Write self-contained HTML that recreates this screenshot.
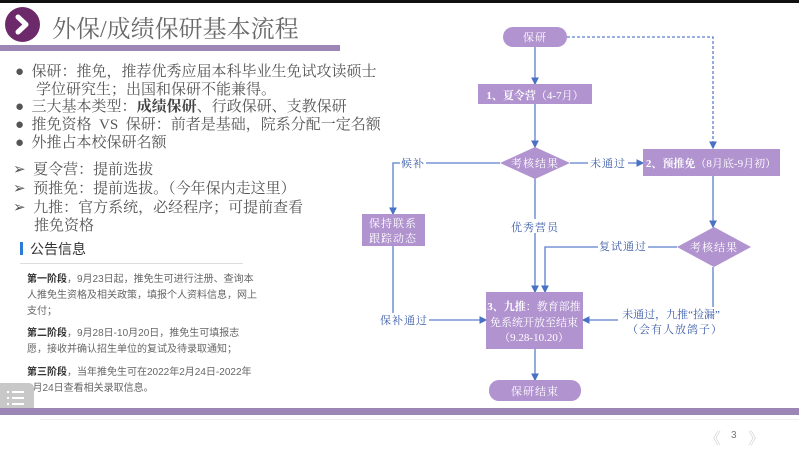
<!DOCTYPE html>
<html><head><meta charset="utf-8"><style>
*{margin:0;padding:0;box-sizing:border-box}
body{width:799px;height:452px;background:#fff;position:relative;overflow:hidden;font-family:"Liberation Sans","Noto Serif CJK SC","Noto Sans CJK SC",sans-serif;color:#555}
.a{position:absolute;white-space:nowrap}
.serif{font-family:"Liberation Serif","Noto Serif CJK SC",serif}
.b{font-size:15px;line-height:18px;color:#555}
.p{font-family:"Liberation Sans","Noto Sans CJK SC",sans-serif;font-size:10px;color:#666;line-height:16px}
.p b{color:#333}
</style></head><body>
<div class="a" style="left:0;top:0;width:799px;height:3px;background:#111"></div>
<div class="a" style="left:5px;top:7px;width:35px;height:35px;border-radius:50%;background:#6d2a6b"></div>
<svg class="a" style="left:5px;top:7px" width="35" height="35"><path d="M13 10 L21 17.5 L13 25" stroke="#fff" stroke-width="5" fill="none" stroke-linecap="round" stroke-linejoin="round"/></svg>
<div class="a serif" style="left:52px;top:9px;font-size:24px;color:#6a6a6a">外保/成绩保研基本流程</div>
<div class="a" style="left:0;top:45px;width:340px;height:6px;background:#9b86b6"></div>

<div class="a serif b" style="left:15px;top:63px">●&nbsp; 保研：推免，推荐优秀应届本科毕业生免试攻读硕士</div>
<div class="a serif b" style="left:36px;top:81px">学位研究生；出国和保研不能兼得。</div>
<div class="a serif b" style="left:15px;top:98px">●&nbsp; 三大基本类型：<b style="color:#444">成绩保研</b>、行政保研、支教保研</div>
<div class="a serif b" style="left:15px;top:116px">●&nbsp; 推免资格&nbsp; VS&nbsp; 保研：前者是基础，院系分配一定名额</div>
<div class="a serif b" style="left:15px;top:134px">●&nbsp; 外推占本校保研名额</div>
<div class="a serif b" style="left:13px;top:161px">➢&nbsp; 夏令营：提前选拔</div>
<div class="a serif b" style="left:13px;top:180px">➢&nbsp; 预推免：提前选拔。（今年保内走这里）</div>
<div class="a serif b" style="left:13px;top:199px">➢&nbsp; 九推：官方系统，必经程序；可提前查看</div>
<div class="a serif b" style="left:34px;top:217px">推免资格</div>

<div class="a" style="left:20px;top:242px;width:3px;height:13px;background:#2a7bd5"></div>
<div class="a" style="left:30px;top:239px;font-size:14px;color:#333;font-family:'Liberation Sans','Noto Sans CJK SC',sans-serif">公告信息</div>
<div class="a" style="left:20px;top:263px;width:223px;height:1px;background:#ddd"></div>
<div class="a p" style="left:27px;top:272px"><b>第一阶段</b>，9月23日起，推免生可进行注册、查询本<br>人推免生资格及相关政策，填报个人资料信息，网上<br>支付；</div>
<div class="a p" style="left:27px;top:326px"><b>第二阶段</b>，9月28日-10月20日，推免生可填报志<br>愿，接收并确认招生单位的复试及待录取通知；</div>
<div class="a p" style="left:27px;top:365px"><b>第三阶段</b>，当年推免生可在2022年2月24日-2022年<br>3月24日查看相关录取信息。</div>

<div class="a" style="left:0;top:383px;width:34px;height:30px;background:#c8c8c8;border-radius:0 5px 5px 0"></div>
<svg class="a" style="left:6px;top:388px" width="22" height="20"><g fill="#fff"><rect x="6" y="3" width="12" height="2"/><rect x="6" y="9" width="12" height="2"/><rect x="6" y="15" width="12" height="2"/><rect x="1" y="3" width="2" height="2"/><rect x="1" y="9" width="2" height="2"/><rect x="1" y="15" width="2" height="2"/></g></svg>

<div class="a" style="left:0;top:408px;width:799px;height:7px;background:#9b86b6"></div>
<div class="a" style="left:40px;top:419px;width:760px;height:1px;background:#eee"></div>
<div class="a" style="left:705px;top:426px;font-size:16px;color:#ccc">《</div>
<div class="a" style="left:731px;top:430px;font-size:10px;color:#777">3</div>
<div class="a" style="left:748px;top:426px;font-size:16px;color:#ccc">》</div>

<svg class="a" style="left:0;top:0" width="799" height="452" font-family="'Liberation Serif','Noto Serif CJK SC',serif">
<defs><marker id="ar" markerWidth="6" markerHeight="6" refX="5" refY="3" orient="auto"><path d="M0,0 L6,3 L0,6z" fill="#4a72c4"/></marker></defs>
<g stroke="#5a7fcc" stroke-width="1.3" fill="none">
<path d="M567 37 H713 V148" stroke-dasharray="3,2" marker-end="url(#ar)"/>
<path d="M535 47 V84" marker-end="url(#ar)"/>
<path d="M535 104 V147" marker-end="url(#ar)"/>
<path d="M500 163 H393 V214" marker-end="url(#ar)"/>
<path d="M570 163 H643" marker-end="url(#ar)"/>
<path d="M393 246 V320 H486" marker-end="url(#ar)"/>
<path d="M535 178 V292" marker-end="url(#ar)"/>
<path d="M713 176 V227" marker-end="url(#ar)"/>
<path d="M677 247 H545 V292" marker-end="url(#ar)"/>
<path d="M713 267 V307"/>
<path d="M618 320 H583" marker-end="url(#ar)"/>
<path d="M535 349 V380" marker-end="url(#ar)"/>
</g>
<g fill="#b193cf">
<rect x="503" y="27" width="64" height="20" rx="10"/>
<rect x="478" y="84" width="114" height="20"/>
<polygon points="500,163 535,147 570,163 535,179"/>
<rect x="643" y="149" width="137" height="27"/>
<rect x="362" y="214" width="63" height="32"/>
<polygon points="677,247 714,227 751,247 714,267"/>
<rect x="486" y="292" width="97" height="57"/>
<rect x="489" y="380" width="92" height="21" rx="10"/>
</g>
<g fill="#fff" font-size="11" text-anchor="middle">
<text x="535" y="41" letter-spacing="1">保研</text>
<text x="535" y="99"><tspan font-weight="bold">1、夏令营</tspan>（4-7月）</text>
<text x="535" y="167" letter-spacing="1">考核结果</text>
<text x="711" y="167"><tspan font-weight="bold">2、预推免</tspan>（8月底-9月初）</text>
<text x="393" y="227" letter-spacing="1">保持联系</text>
<text x="393" y="242" letter-spacing="1">跟踪动态</text>
<text x="714" y="251" letter-spacing="1">考核结果</text>
<text x="534" y="310"><tspan font-weight="bold">3、九推</tspan>：教育部推</text>
<text x="534" y="326">免系统开放至结束</text>
<text x="534" y="341">（9.28-10.20）</text>
<text x="535" y="395" letter-spacing="1">保研结束</text>
</g>
<g fill="#3b5ca8" font-size="11" text-anchor="middle" letter-spacing="1">
<rect x="400" y="156" width="26" height="14" fill="#fff"/><text x="413" y="167">候补</text>
<rect x="588" y="156" width="40" height="14" fill="#fff"/><text x="608" y="167">未通过</text>
<rect x="511" y="219" width="48" height="14" fill="#fff"/><text x="535" y="231">优秀营员</text>
<rect x="598" y="239" width="50" height="14" fill="#fff"/><text x="623" y="250">复试通过</text>
<rect x="379" y="313" width="50" height="14" fill="#fff"/><text x="404" y="324">保补通过</text>
<text x="671" y="318" letter-spacing="0">未通过，九推“捡漏”</text>
<text x="675" y="333">（会有人放鸽子）</text>
</g>
</svg>
</body></html>
